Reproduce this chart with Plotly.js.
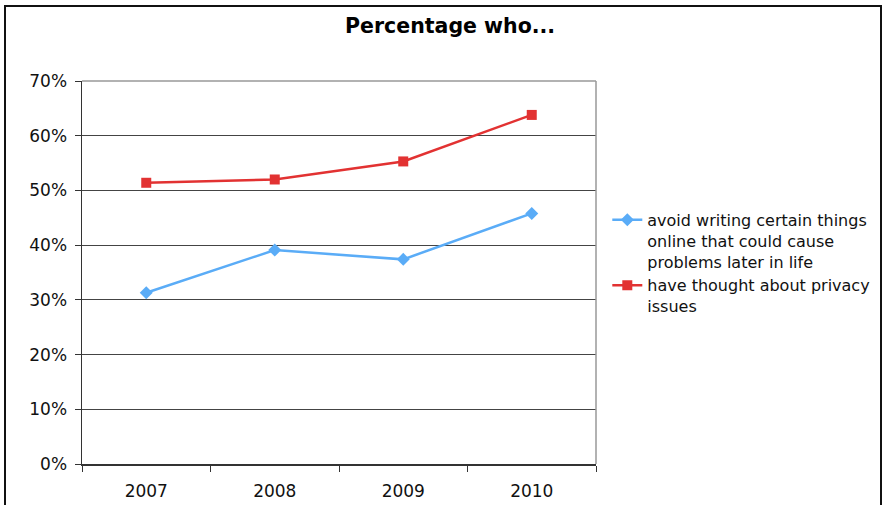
<!DOCTYPE html>
<html>
<head>
<meta charset="utf-8">
<script src="https://cdn.plot.ly/plotly-3.0.1.min.js"></script>
<style>
html,body{margin:0;padding:0;background:#fff;overflow:hidden;}
#chart{width:886px;height:505px;position:relative;}
#frame{position:absolute;left:4px;top:5px;width:874px;height:600px;border:2px solid #111;border-bottom:none;pointer-events:none;z-index:5;}
</style>
</head>
<body>
<div id="chart"></div>
<div id="frame"></div>
<script>
var years = ['2007', '2008', '2009', '2010'];
var avoidWriting = [0.313, 0.391, 0.374, 0.458];
var privacyThought = [0.514, 0.520, 0.553, 0.638];
var seriesNames = ['avoid writing certain things<br>online that could cause<br>problems later in life', 'have thought about privacy<br>issues'];
var yTicks = [0, 0.1, 0.2, 0.3, 0.4, 0.5, 0.6, 0.7];

var fontFam = '"DejaVu Sans", Lato, sans-serif';

var traces = [
  {
    x: years, y: avoidWriting, name: seriesNames[0], type: 'scatter', mode: 'lines+markers',
    line: {color: '#5aacf7', width: 2.5},
    marker: {symbol: 'diamond', size: 10, color: '#5aacf7'}
  },
  {
    x: years, y: privacyThought, name: seriesNames[1], type: 'scatter', mode: 'lines+markers',
    line: {color: '#e23232', width: 2.5},
    marker: {symbol: 'square', size: 10, color: '#e23232'}
  }
];

var layout = {
  width: 886, height: 505,
  margin: {l: 82, r: 289, t: 81, b: 41},
  paper_bgcolor: '#fff', plot_bgcolor: '#fff',
  font: {family: fontFam, color: '#111', size: 17},
  title: {
    text: '<b>Percentage who...</b>',
    font: {family: fontFam, size: 20.5, color: '#000'},
    x: 0.508, xref: 'container', xanchor: 'center',
    y: 0.948, yref: 'container', yanchor: 'middle'
  },
  xaxis: {
    type: 'category', range: [-0.5, 3.5],
    showgrid: false, zeroline: false,
    showline: true, linecolor: '#333', linewidth: 1.5,
    ticks: 'outside', ticklen: 6, tickcolor: '#333', tickson: 'boundaries',
    ticklabelstandoff: 11,
    tickfont: {size: 17, color: '#111'}, mirror: false
  },
  yaxis: {
    range: [0, 0.7], tickvals: yTicks, tickformat: '.0%',
    showgrid: true, gridcolor: '#444', gridwidth: 1,
    zeroline: false, showline: true, linecolor: '#333', linewidth: 1.5,
    ticks: 'outside', ticklen: 6, tickcolor: '#333',
    ticklabelstandoff: 4,
    tickfont: {size: 17, color: '#111'}
  },
  shapes: [
    {type: 'line', xref: 'paper', yref: 'paper', x0: 1, x1: 1, y0: 0, y1: 1, line: {color: '#999', width: 1.5}},
    {type: 'line', xref: 'paper', yref: 'paper', x0: 0, x1: 1, y0: 1, y1: 1, line: {color: '#999', width: 1.5}}
  ],
  showlegend: true,
  legend: {
    x: 1.02, xanchor: 'left', y: 0.525, yanchor: 'middle', valign: 'top',
    font: {family: fontFam, size: 16, color: '#111'},
    bgcolor: 'rgba(0,0,0,0)', tracegroupgap: 2, itemwidth: 30
  }
};

Plotly.newPlot('chart', traces, layout, {displayModeBar: false, staticPlot: true});
</script>
</body>
</html>
